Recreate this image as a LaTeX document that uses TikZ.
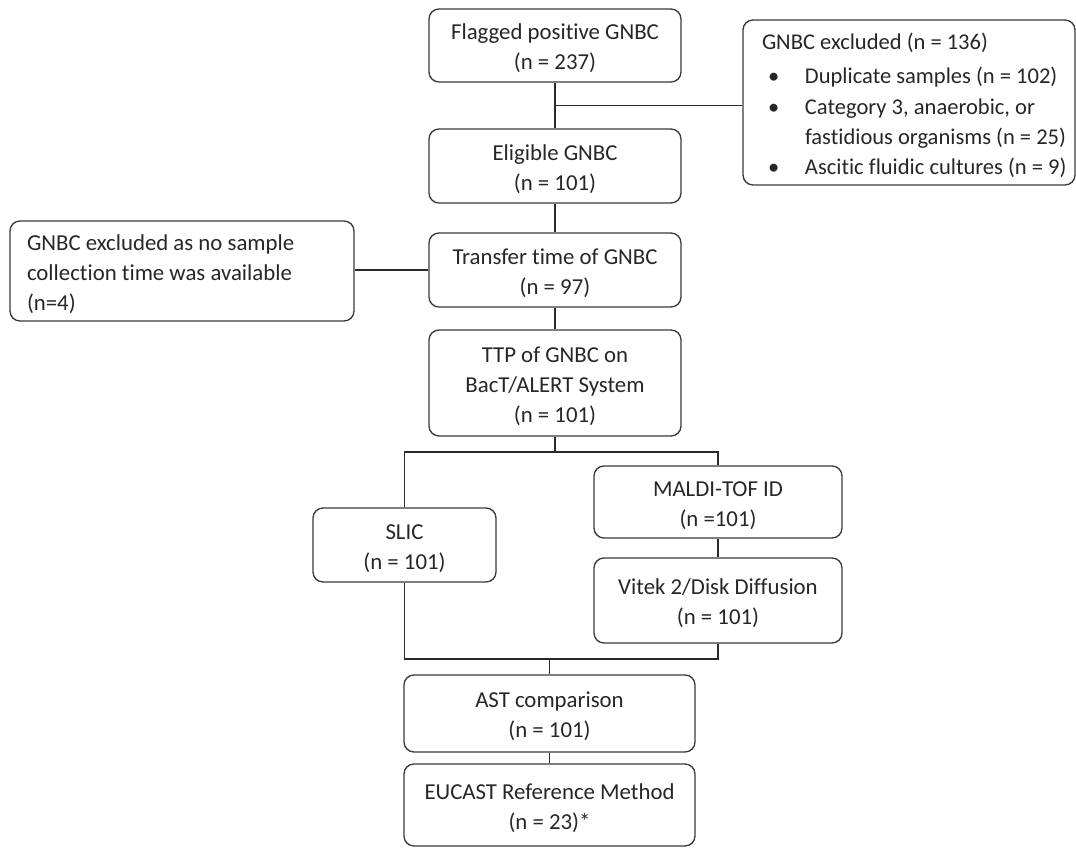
\documentclass[tikz,border=0pt]{standalone}
\usepackage{fontspec}
\setmainfont{Carlito}[Ligatures={NoCommon}]
\usetikzlibrary{calc}
\newlength\px
\setlength\px{0.75pt}
\definecolor{txt}{HTML}{262626}
\definecolor{brd}{HTML}{3A3A3A}
\definecolor{lnk}{HTML}{2A2A2A}
\tikzset{
  box/.style={draw=brd, line width=1pt, rounded corners=10\px, text=txt,
    align=flush center, inner sep=0pt, text height=22\px, font=\fontsize{17.1pt}{22.5pt}\selectfont},
  sz/.style 2 args={minimum width=#1\px, text width=#1\px, minimum height=#2\px},
  link/.style={draw=lnk, line width=0.85pt}
}
\begin{document}
\begin{tikzpicture}[x=\px, y=-\px]
\useasboundingbox (0,0) rectangle (1076,848);
% main column
\node[box, sz={252}{73}] (b1) at (555,45.5) {Flagged positive GNBC\\(n = 237)};
\node[box, sz={252}{74}] (b2) at (555,166) {Eligible GNBC\\(n = 101)};
\node[box, sz={252}{74}] (b3) at (555,270) {Transfer time of GNBC\\(n = 97)};
\node[box, sz={252}{106}] (b4) at (555,383) {TTP of GNBC on\\BacT/ALERT System\\(n = 101)};
\node[box, sz={183}{74}] (slic) at (404.5,545) {SLIC\\(n = 101)};
\node[box, sz={248}{72}] (maldi) at (718,502) {MALDI-TOF ID\\(n =101)};
\node[box, sz={248}{85}] (vitek) at (718,600.5) {Vitek 2/Disk Diffusion\\(n = 101)};
\node[box, sz={291}{77}] (ast) at (549.5,713.5) {AST comparison\\(n = 101)};
\node[box, sz={291}{82}] (eucast) at (549.5,805) {EUCAST Reference Method\\(n = 23)*};
% exclusion boxes
\node[box, align=flush left, inner xsep=19\px, text width=294\px, minimum height=165\px,
      font=\fontsize{16.9pt}{22.5pt}\selectfont] (ex1) at (909,102.5)
  {\mbox{GNBC excluded (n = 136)}\\[3pt]%
   \mbox{\hspace*{6\px}\makebox[37\px][l]{•}Duplicate samples (n = 102)}\\[1pt]%
   \mbox{\hspace*{6\px}\makebox[37\px][l]{•}Category 3, anaerobic, or}\\%
   \mbox{\hspace*{43\px}fastidious organisms (n = 25)}\\%
   \mbox{\hspace*{6\px}\makebox[37\px][l]{•}Ascitic fluidic cultures (n = 9)}};
\node[box, align=flush left, inner xsep=17\px, text width=310\px, minimum height=100\px] (ex2) at (182,271)
  {GNBC excluded as no sample\\collection time was available\\(n=4)};
% connectors
\coordinate (j1) at ($(b1.south)!0.5!(b2.north)$);
\draw[link] (b1.south) -- (b2.north);
\draw[link] (j1) -- (j1 -| ex1.west);
\draw[link] (b2.south) -- (b3.north);
\draw[link] (b3.west) -- (b3.west -| ex2.east);
\draw[link] (b3.south) -- (b4.north);
\coordinate (s1) at (555,452);
\draw[link] (b4.south) -- (s1);
\draw[link] (slic.north) |- (s1) -| (maldi.north);
\draw[link] (maldi.south) -- (vitek.north);
\coordinate (s2) at (549.5,659);
\draw[link] (slic.south) |- (s2) -| (vitek.south);
\draw[link] (s2) -- (ast.north);
\draw[link] (ast.south) -- (eucast.north);
\end{tikzpicture}
\end{document}
